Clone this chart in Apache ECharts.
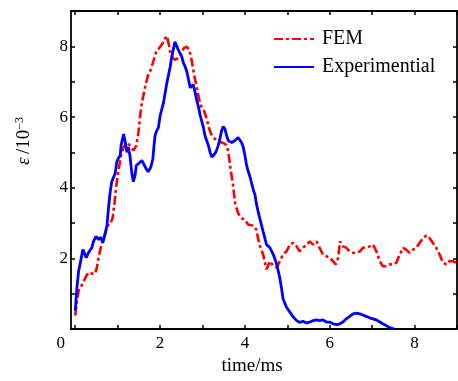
<!DOCTYPE html>
<html>
<head>
<meta charset="utf-8">
<script src="https://cdn.jsdelivr.net/npm/echarts@6/dist/echarts.min.js"></script>
<style>
  html, body { margin: 0; padding: 0; background: #fff; }
  #chart { width: 458px; height: 381px; }
</style>
</head>
<body>
<div id="chart"></div>
<script>
// Strain histories: [time (ms), strain (10^-3)]
const femSeries = [
  [0.00,0.38],[0.04,0.80],[0.08,1.08],[0.13,1.18],[0.20,1.36],[0.26,1.50],[0.31,1.60],[0.39,1.57],
  [0.47,1.57],[0.51,1.74],[0.55,2.02],[0.59,2.25],[0.64,2.48],[0.71,2.72],[0.75,2.93],[0.82,2.95],
  [0.88,3.14],[0.92,3.51],[0.96,3.98],[1.00,4.35],[1.04,4.63],[1.08,4.91],[1.14,5.15],[1.22,5.28],
  [1.29,5.19],[1.37,5.05],[1.44,5.19],[1.49,5.57],[1.53,6.03],[1.57,6.40],[1.62,6.69],[1.67,6.97],
  [1.72,7.20],[1.78,7.34],[1.84,7.57],[1.91,7.85],[1.98,7.95],[2.06,8.09],[2.12,8.23],[2.16,8.29],
  [2.20,8.09],[2.24,7.85],[2.30,7.67],[2.35,7.62],[2.43,7.67],[2.51,7.81],[2.56,7.95],[2.63,7.99],
  [2.69,7.90],[2.75,7.57],[2.80,7.20],[2.86,6.87],[2.92,6.50],[2.98,6.27],[3.04,6.17],[3.10,5.94],
  [3.16,5.66],[3.22,5.47],[3.29,5.38],[3.37,5.33],[3.45,5.28],[3.53,5.24],[3.58,5.19],[3.62,4.91],
  [3.66,4.54],[3.72,4.07],[3.77,3.55],[3.84,3.28],[3.92,3.14],[4.00,3.09],[4.08,2.95],[4.20,2.93],
  [4.27,2.81],[4.34,2.40],[4.43,2.11],[4.51,1.69],[4.59,1.92],[4.67,1.78],[4.75,1.74],[4.82,1.92],
  [4.90,2.11],[4.98,2.20],[5.06,2.39],[5.14,2.44],[5.22,2.34],[5.29,2.20],[5.37,2.30],[5.45,2.39],
  [5.53,2.48],[5.61,2.39],[5.69,2.48],[5.76,2.30],[5.84,2.11],[5.92,2.06],[6.00,2.02],[6.08,1.92],
  [6.14,1.83],[6.20,2.02],[6.24,2.48],[6.31,2.34],[6.39,2.30],[6.47,2.20],[6.55,2.16],[6.63,2.16],
  [6.71,2.20],[6.78,2.30],[6.86,2.30],[6.94,2.34],[7.02,2.39],[7.10,2.20],[7.18,1.92],[7.25,1.78],
  [7.33,1.78],[7.41,1.83],[7.49,1.83],[7.57,1.88],[7.65,2.11],[7.73,2.30],[7.80,2.25],[7.88,2.16],
  [7.96,2.25],[8.04,2.30],[8.12,2.44],[8.20,2.58],[8.28,2.65],[8.35,2.58],[8.43,2.44],[8.51,2.30],
  [8.59,2.11],[8.67,1.88],[8.75,1.83],[8.82,1.92],[8.90,1.92],[8.98,1.88]
];

const experimentalSeries = [
  [0.00,0.52],[0.04,1.18],[0.08,1.64],[0.12,1.88],[0.18,2.25],[0.21,2.30],[0.26,2.02],[0.31,2.16],
  [0.39,2.30],[0.43,2.48],[0.49,2.62],[0.55,2.53],[0.60,2.60],[0.65,2.44],[0.71,2.72],[0.75,2.95],
  [0.78,3.37],[0.82,3.84],[0.86,4.17],[0.90,4.21],[0.94,4.40],[0.98,4.73],[1.02,4.84],[1.06,4.91],
  [1.08,5.19],[1.14,5.52],[1.18,5.29],[1.22,5.00],[1.25,5.15],[1.29,4.91],[1.33,4.45],[1.37,4.17],
  [1.41,4.35],[1.44,4.63],[1.49,4.68],[1.53,4.63],[1.57,4.77],[1.61,4.68],[1.67,4.54],[1.72,4.45],
  [1.78,4.58],[1.83,4.82],[1.85,5.10],[1.88,5.47],[1.92,5.61],[1.96,5.70],[2.00,6.03],[2.04,6.22],
  [2.08,6.40],[2.12,6.69],[2.16,6.97],[2.20,7.20],[2.24,7.43],[2.27,7.67],[2.31,7.90],[2.35,8.13],
  [2.39,8.09],[2.43,7.90],[2.47,7.95],[2.51,7.71],[2.55,7.53],[2.59,7.43],[2.63,7.29],[2.67,7.06],
  [2.71,6.83],[2.75,6.87],[2.78,6.92],[2.82,6.73],[2.86,6.50],[2.90,6.31],[2.94,6.08],[2.98,5.89],
  [3.02,5.71],[3.06,5.47],[3.10,5.33],[3.14,5.19],[3.18,5.00],[3.22,4.87],[3.25,4.87],[3.29,4.96],
  [3.33,5.05],[3.37,5.19],[3.41,5.38],[3.45,5.61],[3.49,5.73],[3.53,5.66],[3.57,5.47],[3.61,5.33],
  [3.65,5.28],[3.69,5.28],[3.72,5.28],[3.76,5.33],[3.80,5.38],[3.84,5.42],[3.88,5.38],[3.92,5.28],
  [3.96,5.15],[4.00,4.91],[4.04,4.63],[4.08,4.45],[4.12,4.31],[4.16,4.12],[4.20,3.93],[4.24,3.79],
  [4.27,3.55],[4.33,3.23],[4.43,2.76],[4.51,2.39],[4.59,2.30],[4.67,2.11],[4.75,1.83],[4.82,1.46],
  [4.86,1.18],[4.90,0.85],[4.98,0.62],[5.06,0.48],[5.14,0.34],[5.22,0.24],[5.29,0.19],[5.37,0.22],
  [5.45,0.17],[5.53,0.20],[5.61,0.24],[5.69,0.26],[5.76,0.24],[5.84,0.26],[5.92,0.20],[6.00,0.20],
  [6.08,0.15],[6.16,0.13],[6.24,0.15],[6.31,0.20],[6.39,0.29],[6.47,0.36],[6.55,0.43],[6.63,0.45],
  [6.71,0.43],[6.78,0.40],[6.86,0.36],[6.94,0.32],[7.02,0.29],[7.10,0.26],[7.18,0.20],[7.25,0.15],
  [7.33,0.10],[7.41,0.04],[7.52,0.00]
];

const seriesNames = ['FEM', 'Experimential'];
const xTickValues = [0, 1, 2, 3, 4, 5, 6, 7, 8, 9];
const xLabelValues = [0, 2, 4, 6, 8];
const yTickValues = [0, 1, 2, 3, 4, 5, 6, 7, 8, 9];
const yLabelValues = [2, 4, 6, 8];

const serif = '"Liberation Serif", "DejaVu Serif", serif';
const axisLine = { show: true, onZero: false, lineStyle: { color: '#000', width: 1.8 } };
const tickStyle = { inside: true, length: 4, lineStyle: { color: '#000', width: 1.5 } };

const chart = echarts.init(document.getElementById('chart'), null, { renderer: 'canvas' });

chart.setOption({
  animation: false,
  backgroundColor: '#fff',
  grid: { left: 71, right: 1, top: 11, bottom: 49, containLabel: false },
  legend: {
    orient: 'vertical',
    left: 273,
    top: 29,
    padding: 0,
    itemWidth: 40,
    itemHeight: 19,
    itemGap: 8,
    itemStyle: { opacity: 0 },
    textStyle: { fontFamily: serif, fontSize: 20, color: '#000', padding: [0, 0, 0, 3] },
    data: seriesNames
  },
  xAxis: [
    {
      type: 'value',
      min: -0.1,
      max: 9,
      position: 'bottom',
      axisLine: axisLine,
      axisTick: Object.assign({ customValues: xTickValues }, tickStyle),
      splitLine: { show: false },
      axisLabel: {
        customValues: xLabelValues,
        margin: 6,
        fontFamily: serif,
        fontSize: 17,
        color: '#000',
        formatter: function (v) { return v === 0 ? '{o|0}' : String(v); },
        rich: { o: { fontFamily: serif, fontSize: 17, color: '#000', padding: [0, 29, 0, 0] } }
      },
      name: 'time/ms',
      nameLocation: 'middle',
      nameGap: 27,
      nameTextStyle: { fontFamily: serif, fontSize: 19, color: '#000', padding: [0, 24, 0, 0] }
    },
    {
      type: 'value',
      min: -0.1,
      max: 9,
      position: 'top',
      axisLine: axisLine,
      axisTick: Object.assign({ customValues: xTickValues }, tickStyle),
      axisLabel: { show: false },
      splitLine: { show: false }
    }
  ],
  yAxis: [
    {
      type: 'value',
      min: 0,
      max: 9,
      position: 'left',
      axisLine: axisLine,
      axisTick: Object.assign({ customValues: yTickValues }, tickStyle),
      splitLine: { show: false },
      axisLabel: {
        customValues: yLabelValues,
        margin: 3,
        fontFamily: serif,
        fontSize: 17,
        color: '#000'
      }
    },
    {
      type: 'value',
      min: 0,
      max: 9,
      position: 'right',
      axisLine: axisLine,
      axisTick: Object.assign({ customValues: yTickValues }, tickStyle),
      axisLabel: { show: false },
      splitLine: { show: false }
    }
  ],
  graphic: [
    {
      type: 'text',
      x: 24,
      y: 141,
      rotation: Math.PI / 2,
      style: {
        text: '{e|ε} {n|/10}{s|−3}',
        align: 'center',
        verticalAlign: 'middle',
        rich: {
          e: { fontFamily: serif, fontSize: 19, fontStyle: 'italic', fill: '#000' },
          n: { fontFamily: serif, fontSize: 19, fill: '#000' },
          s: { fontFamily: serif, fontSize: 12, fill: '#000', padding: [0, 0, 9, 0] }
        }
      }
    }
  ],
  series: [
    {
      name: seriesNames[0],
      type: 'line',
      data: femSeries,
      showSymbol: false,
      symbol: 'none',
      color: '#ff0000',
      lineStyle: { color: '#ff0000', width: 2.6, type: [9, 3, 3, 3] },
      z: 2
    },
    {
      name: seriesNames[1],
      type: 'line',
      data: experimentalSeries,
      showSymbol: false,
      symbol: 'none',
      color: '#0000ff',
      lineStyle: { color: '#0000ff', width: 2.8 },
      z: 3
    }
  ]
});
</script>
</body>
</html>
